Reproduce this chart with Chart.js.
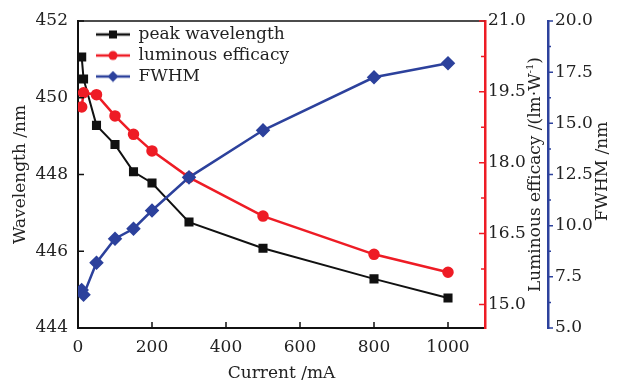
<!DOCTYPE html>
<html>
<head>
<meta charset="utf-8">
<script src="https://cdn.jsdelivr.net/npm/chart.js@4/dist/chart.umd.min.js"></script>
<style>
    html, body { margin: 0; padding: 0; background: #fff; }
    #wrap { width: 618px; height: 384px; }
</style>
</head>
<body>
<div id="wrap"><canvas id="chart"></canvas></div>
<script>
// data
const currents = [10, 15, 50, 100, 150, 200, 300, 500, 800, 1000];
const wavelength = [451.06, 450.49, 449.28, 448.78, 448.07, 447.78, 446.76, 446.08, 445.28, 444.78];
const efficacy = [19.18, 19.48, 19.44, 18.99, 18.6, 18.25, 17.69, 16.87, 16.06, 15.68];
const fwhm = [6.86, 6.62, 8.19, 9.36, 9.85, 10.74, 12.36, 14.66, 17.25, 17.94];

const xTicks = [0, 200, 400, 600, 800, 1000];
const wlTicks = [444, 446, 448, 450, 452];
const effTicks = [15.0, 16.5, 18.0, 19.5, 21.0];
const fwhmTicks = [5.0, 7.5, 10.0, 12.5, 15.0, 17.5, 20.0];

const BLACK = "#111111";
const RED = "#ee1c25";
const BLUE = "#2c419c";
const FONT = { family: "'DejaVu Serif', serif", size: 17 };

// legend icons: line + marker
function makeIcon(color, shape) {
    const c = document.createElement("canvas");
    c.width = 48;
    c.height = 12;
    const g = c.getContext("2d");
    g.strokeStyle = color;
    g.fillStyle = color;
    g.lineWidth = 2.5;
    g.beginPath();
    g.moveTo(14, 6);
    g.lineTo(48, 6);
    g.stroke();
    const cx = 31, cy = 6;
    g.beginPath();
    if (shape === "rect") {
        g.rect(cx - 4, cy - 4, 8, 8);
    } else if (shape === "circle") {
        g.arc(cx, cy, 4.5, 0, Math.PI * 2);
    } else {
        g.moveTo(cx, cy - 5.5);
        g.lineTo(cx + 5.5, cy);
        g.lineTo(cx, cy + 5.5);
        g.lineTo(cx - 5.5, cy);
        g.closePath();
    }
    g.fill();
    return c;
}
const legendIcons = [makeIcon(BLACK, "rect"), makeIcon(RED, "circle"), makeIcon(BLUE, "diamond")];

// inward ticks, top frame line and right-hand titles
const framePlugin = {
    id: "frame",
    afterLayout(chart) {
        // put the legend just inside the top of the plot
        const lg = chart.legend;
        const dy = chart.chartArea.top + 1 - lg.top;
        lg.top += dy;
        lg.bottom += dy;
    },
    afterDraw(chart) {
        const ctx = chart.ctx;
        const area = chart.chartArea;
        const { x, y, y1, y2 } = chart.scales;
        ctx.save();

        ctx.strokeStyle = BLACK;
        ctx.lineWidth = 1.5;
        ctx.beginPath();
        ctx.moveTo(area.left, area.top);
        ctx.lineTo(area.right, area.top);
        ctx.stroke();

        ctx.beginPath();
        xTicks.forEach(v => {
            const px = x.getPixelForValue(v);
            ctx.moveTo(px, area.bottom);
            ctx.lineTo(px, area.bottom - 6);
        });
        wlTicks.forEach(v => {
            const py = y.getPixelForValue(v);
            ctx.moveTo(area.left, py);
            ctx.lineTo(area.left + 6, py);
        });
        ctx.stroke();

        ctx.strokeStyle = RED;
        ctx.beginPath();
        for (let v = 15; v <= 21; v += 0.75) {
            const py = y1.getPixelForValue(v);
            const major = effTicks.includes(v);
            ctx.moveTo(area.right, py);
            ctx.lineTo(area.right - (major ? 6 : 4), py);
        }
        ctx.stroke();

        ctx.strokeStyle = BLUE;
        ctx.beginPath();
        for (let v = 5; v <= 20; v += 1.25) {
            const py = y2.getPixelForValue(v);
            const major = fwhmTicks.includes(v);
            ctx.moveTo(y2.left, py);
            ctx.lineTo(y2.left + (major ? 5 : 3), py);
        }
        ctx.stroke();

        // right titles, reading bottom to top
        const midY = (area.top + area.bottom) / 2;
        ctx.fillStyle = "#222";
        ctx.textBaseline = "middle";
        ctx.textAlign = "left";

        ctx.save();
        ctx.translate(y1.right - 12, midY);
        ctx.rotate(-Math.PI / 2);
        const main = "Luminous efficacy /(lm\u00b7W";
        const sup = "-1";
        ctx.font = "17px 'DejaVu Serif', serif";
        const w1 = ctx.measureText(main).width;
        const w3 = ctx.measureText(")").width;
        ctx.font = "10px 'DejaVu Serif', serif";
        const w2 = ctx.measureText(sup).width;
        let sx = -(w1 + w2 + w3) / 2;
        ctx.font = "17px 'DejaVu Serif', serif";
        ctx.fillText(main, sx, 0);
        ctx.font = "10px 'DejaVu Serif', serif";
        ctx.fillText(sup, sx + w1, -6);
        ctx.font = "17px 'DejaVu Serif', serif";
        ctx.fillText(")", sx + w1 + w2, 0);
        ctx.restore();

        ctx.save();
        ctx.translate(y2.right - 15, midY - 3);
        ctx.rotate(-Math.PI / 2);
        ctx.font = "17px 'DejaVu Serif', serif";
        ctx.textAlign = "center";
        ctx.fillText("FWHM /nm", 0, 0);
        ctx.restore();

        ctx.restore();
    }
};

const ctx = document.getElementById("chart").getContext("2d");
new Chart(ctx, {
    type: "line",
    data: {
        labels: currents,
        datasets: [
            {
                label: "peak wavelength",
                data: currents.map((c, i) => ({ x: c, y: wavelength[i] })),
                yAxisID: "y",
                borderColor: BLACK,
                backgroundColor: BLACK,
                borderWidth: 2,
                pointStyle: "rect",
                pointRadius: 5,
                pointHoverRadius: 5,
                order: 2
            },
            {
                label: "luminous efficacy",
                data: currents.map((c, i) => ({ x: c, y: efficacy[i] })),
                yAxisID: "y1",
                borderColor: RED,
                backgroundColor: RED,
                borderWidth: 2.5,
                pointStyle: "circle",
                pointRadius: 4.5,
                pointHoverRadius: 4.5,
                order: 1
            },
            {
                label: "FWHM",
                data: currents.map((c, i) => ({ x: c, y: fwhm[i] })),
                yAxisID: "y2",
                borderColor: BLUE,
                backgroundColor: BLUE,
                borderWidth: 2.5,
                pointStyle: "rectRot",
                pointRadius: 5.5,
                pointHoverRadius: 5.5,
                order: 0
            }
        ]
    },
    options: {
        responsive: true,
        maintainAspectRatio: false,
        animation: false,
        devicePixelRatio: 1,
        layout: { padding: { top: 21, left: 0, right: 0, bottom: 0 } },
        plugins: {
            tooltip: { enabled: false },
            legend: {
                position: "chartArea",
                align: "start",
                labels: {
                    usePointStyle: true,
                    pointStyleWidth: 48,
                    boxHeight: 12,
                    padding: 4,
                    color: "#222",
                    font: FONT,
                    sort: (a, b) => a.datasetIndex - b.datasetIndex,
                    generateLabels: chart => {
                        const items = Chart.defaults.plugins.legend.labels.generateLabels(chart);
                        items.forEach(it => { it.pointStyle = legendIcons[it.datasetIndex]; });
                        return items;
                    }
                }
            }
        },
        scales: {
            x: {
                type: "linear",
                min: 0,
                max: 1100,
                afterBuildTicks: s => { s.ticks = xTicks.map(v => ({ value: v })); },
                afterFit: s => { s.height = 56; },
                ticks: { font: FONT, color: "#222", padding: 9, maxRotation: 0, callback: v => String(v) },
                grid: { drawOnChartArea: false, drawTicks: false },
                border: { color: BLACK, width: 2 },
                title: { display: true, text: "Current /mA", font: FONT, color: "#222", padding: { top: 2, bottom: 0 } }
            },
            y: {
                position: "left",
                min: 444,
                max: 452,
                afterBuildTicks: s => { s.ticks = wlTicks.map(v => ({ value: v })); },
                afterFit: s => { s.width = 78; },
                ticks: { font: FONT, color: "#222", padding: 10 },
                grid: { drawOnChartArea: false, drawTicks: false },
                border: { color: BLACK, width: 2 },
                title: { display: true, text: "Wavelength /nm", font: FONT, color: "#222", padding: { top: 10, bottom: 0 } }
            },
            y1: {
                position: "right",
                weight: 1,
                min: 14.5,
                max: 21,
                afterBuildTicks: s => { s.ticks = effTicks.map(v => ({ value: v })); },
                afterFit: s => { s.width = 63; },
                ticks: { font: FONT, color: "#222", padding: 3, callback: v => v.toFixed(1) },
                grid: { drawOnChartArea: false, drawTicks: false },
                border: { color: RED, width: 2.5 }
            },
            y2: {
                position: "right",
                weight: 2,
                min: 5,
                max: 20,
                afterBuildTicks: s => { s.ticks = fwhmTicks.map(v => ({ value: v })); },
                afterFit: s => { s.width = 70; },
                ticks: { font: FONT, color: "#222", padding: 7, callback: v => v.toFixed(1) },
                grid: { drawOnChartArea: false, drawTicks: false },
                border: { color: BLUE, width: 2.5 }
            }
        }
    },
    plugins: [framePlugin]
});
</script>
</body>
</html>
